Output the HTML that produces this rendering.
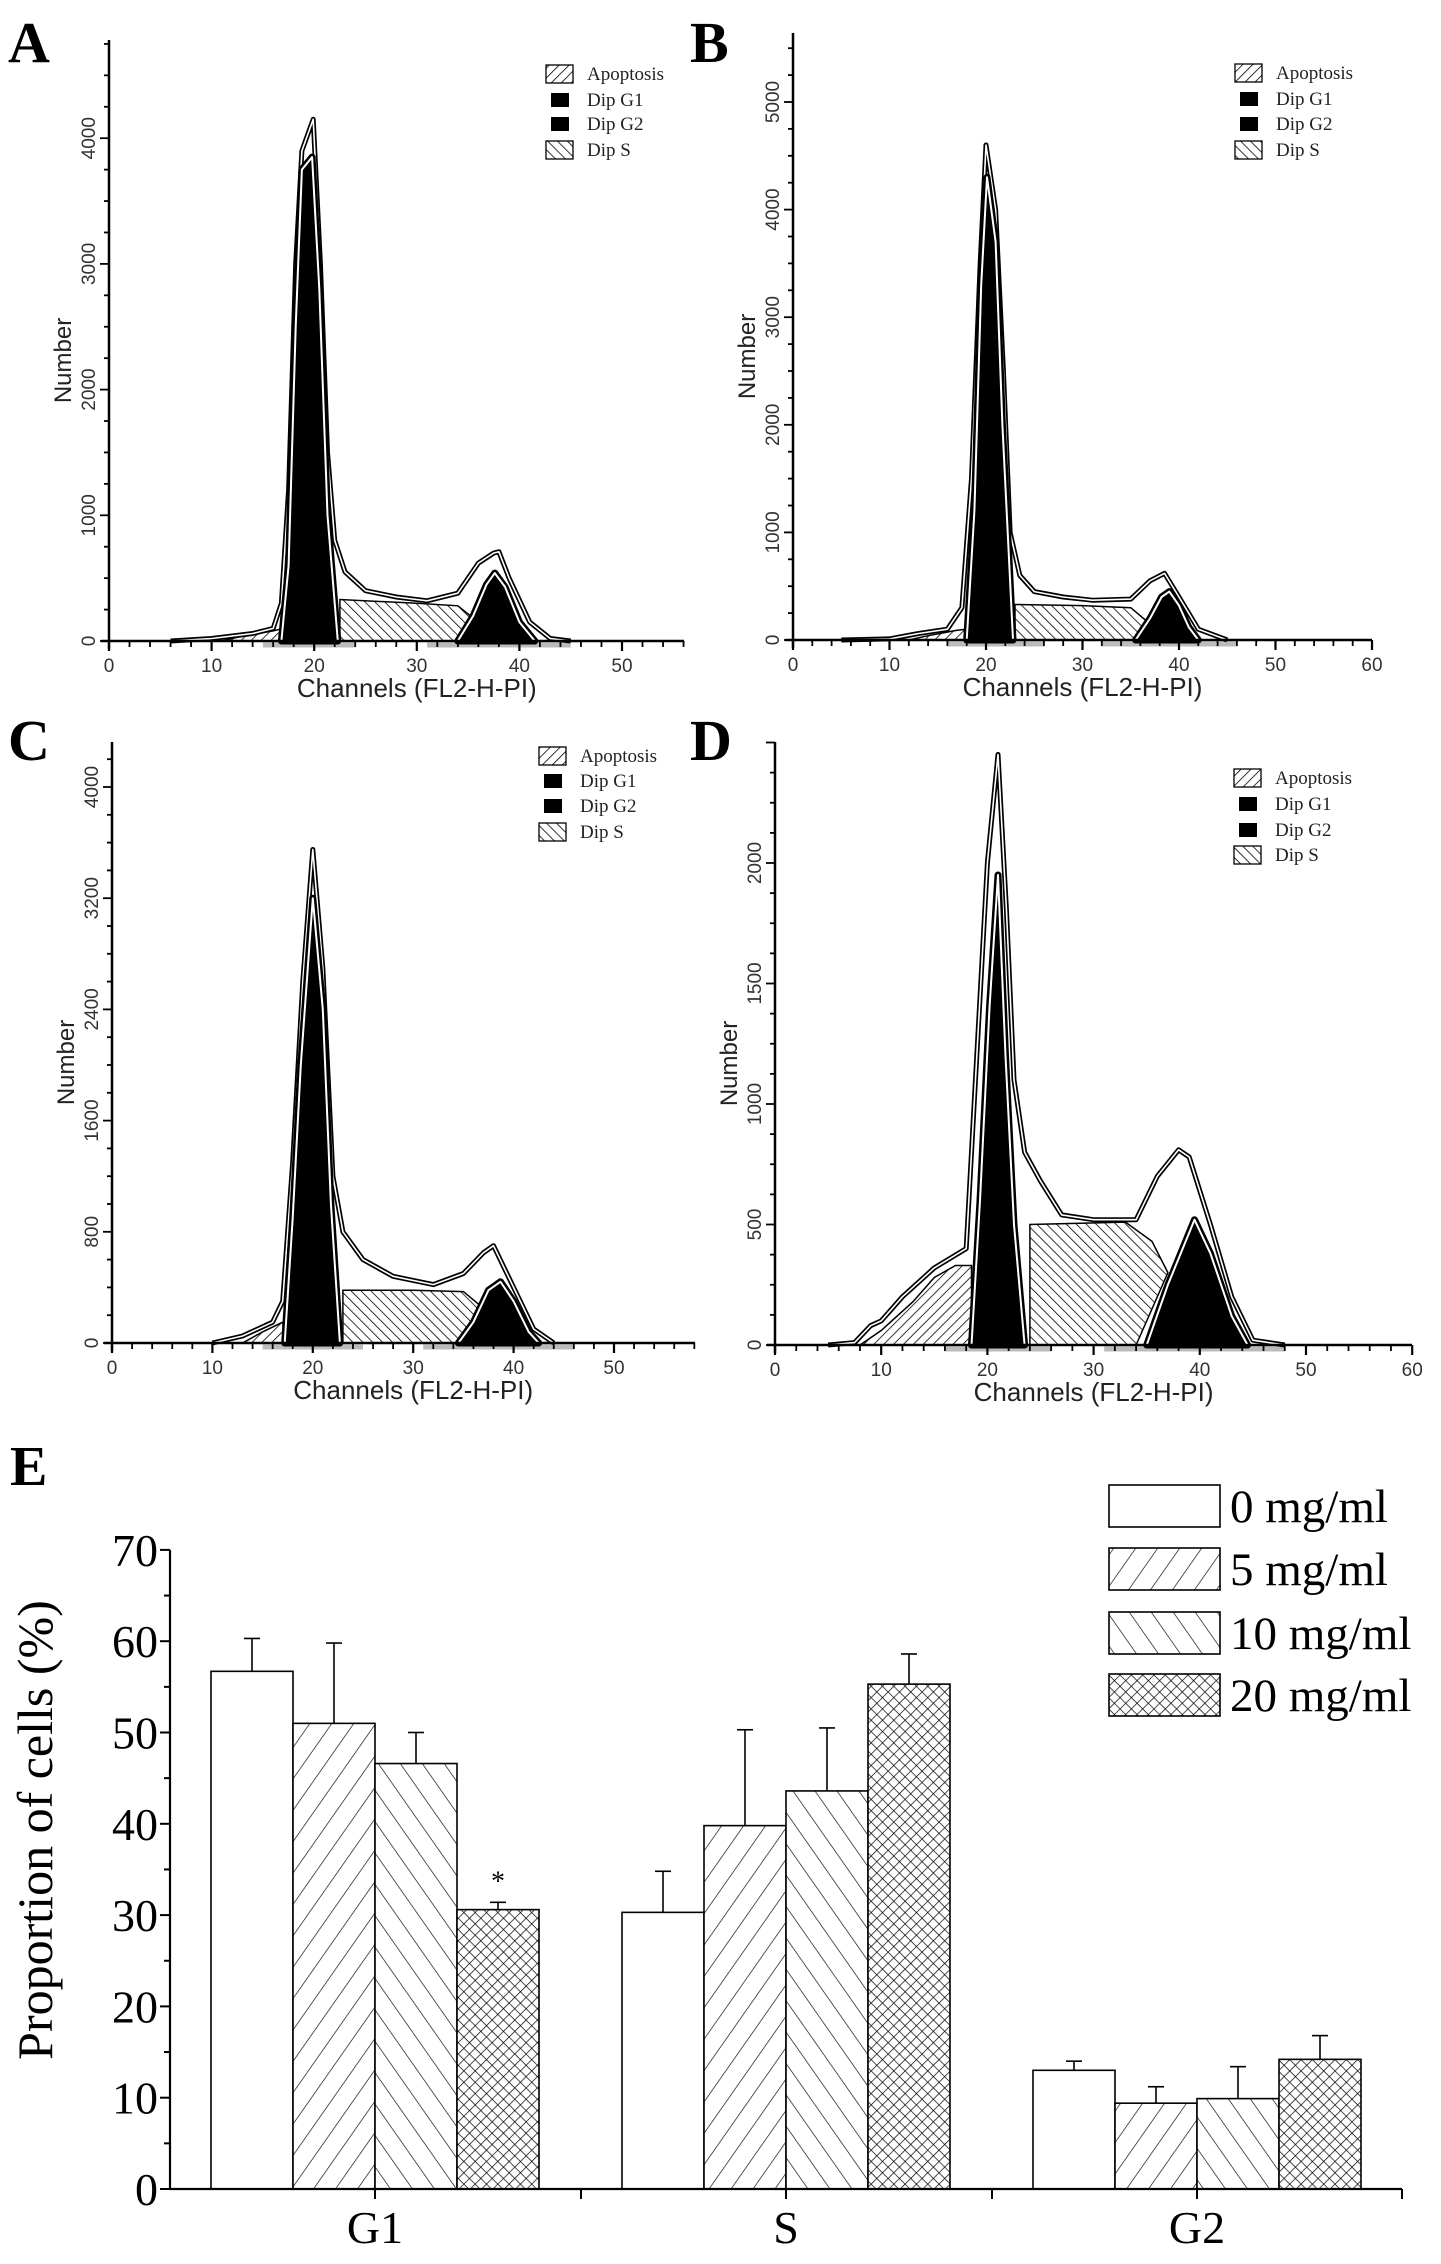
<!DOCTYPE html>
<html><head><meta charset="utf-8"><style>
html,body{margin:0;padding:0;background:#fff;}
svg{display:block;}
</style></head><body>
<svg id="fig" xmlns="http://www.w3.org/2000/svg" width="1441" height="2264" viewBox="0 0 1441 2264">
<defs>
<pattern id="hFwd" patternUnits="userSpaceOnUse" width="7" height="7" patternTransform="rotate(45)"><rect width="7" height="7" fill="#fff"/><line x1="0" y1="0" x2="0" y2="7" stroke="#000" stroke-width="1.6"/></pattern>
<pattern id="hBack" patternUnits="userSpaceOnUse" width="7" height="7" patternTransform="rotate(-45)"><rect width="7" height="7" fill="#fff"/><line x1="0" y1="0" x2="0" y2="7" stroke="#000" stroke-width="1.6"/></pattern>
<pattern id="bFwd" patternUnits="userSpaceOnUse" width="18" height="18" patternTransform="rotate(35)"><rect width="18" height="18" fill="#fff"/><line x1="0" y1="0" x2="0" y2="18" stroke="#000" stroke-width="1.3"/></pattern>
<pattern id="bBack" patternUnits="userSpaceOnUse" width="18" height="18" patternTransform="rotate(-35)"><rect width="18" height="18" fill="#fff"/><line x1="0" y1="0" x2="0" y2="18" stroke="#000" stroke-width="1.3"/></pattern>
<pattern id="bCross" patternUnits="userSpaceOnUse" width="8" height="8" patternTransform="rotate(45)"><rect width="8" height="8" fill="#fff"/><line x1="0" y1="0" x2="0" y2="8" stroke="#000" stroke-width="1.4"/><line x1="0" y1="0" x2="8" y2="0" stroke="#000" stroke-width="1.4"/></pattern>
</defs>
</svg>
<script>
// ---------- Histogram data (channel, count) ----------
const aTotal=[[6,0],[10,20],[14,60],[16,100],[16.8,300],[17.5,1200],[18.2,3000],[18.8,3900],[19.9,4150],[20.6,3000],[21.3,1500],[22,800],[23,550],[25,400],[28,350],[31,320],[34,380],[36,620],[37.5,700],[38,710],[39,500],[41,150],[43,20],[45,0]];
const aG1=[[16.8,0],[17.5,600],[18.2,2500],[18.8,3750],[19.8,3850],[20.5,2800],[21.3,1000],[22.3,0]];
const aG2=[[34,0],[35.5,200],[36.8,450],[37.6,540],[38.6,430],[40,150],[41.5,0]];
const aS=[[22.5,0],[22.5,330],[30,300],[34,280],[36,150],[36.5,0]];
const aApo=[[11,0],[13,40],[16,80],[17,100],[17,0]];
const aTicks=[0,1000,2000,3000,4000];

const bTotal=[[5,0],[10,10],[13,60],[16,100],[17.5,300],[18.5,1500],[19.4,3500],[20,4600],[21,4000],[21.8,2500],[22.5,1000],[23.5,600],[25,450],[28,400],[31,370],[35,380],[37,550],[38.5,620],[40,400],[42,100],[45,0]];
const bG1=[[18,0],[18.8,1200],[19.5,3300],[20.1,4300],[21,3700],[21.7,2000],[22.8,0]];
const bG2=[[35.5,0],[37,200],[38.2,400],[39,450],[40,320],[41,120],[42,0]];
const bS=[[23,0],[23,330],[30,320],[35,300],[37,150],[37.5,0]];
const bApo=[[12,0],[14,40],[17,90],[18,100],[18,0]];
const bTicks=[0,1000,2000,3000,4000,5000];

const cTotal=[[10,0],[13,50],[16,150],[17,300],[18,1300],[19,2600],[20,3550],[21,2700],[22,1200],[23,800],[25,600],[28,480],[32,420],[35,500],[37,650],[38,700],[40,400],[42,100],[44,0]];
const cG1=[[17.2,0],[18,900],[18.8,2000],[20,3200],[21,2400],[21.8,1000],[22.7,0]];
const cG2=[[34.5,0],[36,150],[37.5,380],[38.7,440],[40,300],[41.5,80],[42.5,0]];
const cS=[[23,0],[23,380],[30,380],[35,370],[37,250],[37.5,0]];
const cApo=[[13,0],[15,80],[17,150],[17.2,0]];
const cTicks=[0,800,1600,2400,3200,4000];

const dTotal=[[5,0],[7.5,10],[9,80],[10,100],[12,200],[15,320],[18,400],[19,1200],[20,2000],[21,2450],[21.8,1800],[22.5,1100],[23.5,800],[25,680],[27,540],[30,520],[34,520],[36,700],[38,810],[39,780],[41,500],[43,200],[45,20],[48,0]];
const dG1=[[18.5,0],[19.3,600],[20.2,1400],[21,1950],[21.7,1200],[22.5,500],[23.5,0]];
const dG2=[[35,0],[37,250],[39.5,520],[41,380],[43,120],[44.5,0]];
const dS=[[24,0],[24,500],[33,510],[35.5,430],[37,300],[35,100],[34,0]];
const dApo=[[8,0],[10,60],[13,180],[15,280],[17,330],[18.5,330],[18.5,0]];
const dTicks=[0,500,1000,1500,2000];

// ---------- Bar chart data ----------
const categories=["G1","S","G2"];
const seriesNames=["0 mg/ml","5 mg/ml","10 mg/ml","20 mg/ml"];
const dose0=[56.7,30.3,13.0];
const dose5=[51.0,39.8,9.4];
const dose10=[46.6,43.6,9.9];
const dose20=[30.6,55.3,14.2];
const err0=[3.6,4.5,1.0];
const err5=[8.8,10.5,1.8];
const err10=[3.4,6.9,3.5];
const err20=[0.8,3.3,2.6];
const yTickLabels=[0,10,20,30,40,50,60,70];

const NS="http://www.w3.org/2000/svg";
const svg=document.getElementById('fig');
function mk(tag,attrs,parent){const e=document.createElementNS(NS,tag);for(const k in attrs)e.setAttribute(k,attrs[k]);(parent||svg).appendChild(e);return e;}

function panel(cfg,total,g1,g2,s,apo,ticks){
  const g=mk('g',{});
  
  
  const sx=c=>cfg.x0+c*cfg.px10/10;
  const sy=v=>cfg.y0-v*cfg.pxUnit/cfg.unit;
  const pts=a=>a.map(p=>sx(p[0]).toFixed(1)+','+sy(p[1]).toFixed(1)).join(' ');
  const L=mk('text',{x:cfg.lx,y:cfg.ly,'font-family':'Liberation Serif, serif','font-weight':'bold','font-size':58},g);
  L.textContent=cfg.label;
  
  
  mk('line',{x1:sx(cfg.m1[0]),x2:sx(cfg.m1[1]),y1:cfg.y0+4,y2:cfg.y0+4,stroke:'#bbb','stroke-width':5},g);
  mk('line',{x1:sx(cfg.m2[0]),x2:sx(cfg.m2[1]),y1:cfg.y0+4,y2:cfg.y0+4,stroke:'#bbb','stroke-width':5},g);
  const ap=mk('polygon',{points:pts(apo),fill:'url(#hFwd)',stroke:'#000','stroke-width':1.5},g);
  
  
  const sp=mk('polygon',{points:pts(s),fill:'url(#hBack)',stroke:'#000','stroke-width':1.5},g);
  
  
  mk('polyline',{points:pts(total),fill:'none',stroke:'#000','stroke-width':5,'stroke-linejoin':'round'},g);
  const env=mk('polyline',{points:pts(total),fill:'none',stroke:'#fff','stroke-width':1.6,'stroke-linejoin':'round'},g);
  
  
  [[g1,'dip-g1-peak'],[g2,'dip-g2-peak']].forEach(([d,n])=>{
    mk('polygon',{points:pts(d),fill:'#000',stroke:'#000','stroke-width':7,'stroke-linejoin':'round'},g);
    const p=mk('polygon',{points:pts(d),fill:'#000',stroke:'#fff','stroke-width':2,'stroke-linejoin':'round'},g);
    
    
  });
  const ya=mk('line',{x1:cfg.x0,x2:cfg.x0,y1:cfg.top,y2:cfg.y0+8,stroke:'#000','stroke-width':2.5},g);
  
  
  const xa=mk('line',{x1:cfg.x0-8,x2:cfg.xend,y1:cfg.y0,y2:cfg.y0,stroke:'#000','stroke-width':2.5},g);
  
  
  for(let c=0;sx(c)<=cfg.xend+1;c+=2){
    const major=c%10===0;
    mk('line',{x1:sx(c),x2:sx(c),y1:cfg.y0,y2:cfg.y0+(major?10:6),stroke:'#000','stroke-width':major?2.2:1.8},g);
    if(major){const t=mk('text',{x:sx(c),y:cfg.y0+31,'text-anchor':'middle','font-family':'Liberation Sans, sans-serif','font-size':19,fill:'#333'},g);t.textContent=c;
      
      }
  }
  const step=ticks[1]-ticks[0];
  for(let v=0;sy(v)>=cfg.top;v+=step/4){
    const major=Math.abs(v/step-Math.round(v/step))<1e-6;
    mk('line',{x1:cfg.x0-(major?9:5),x2:cfg.x0,y1:sy(v),y2:sy(v),stroke:'#000','stroke-width':1.8},g);
  }
  ticks.forEach(v=>{
    const t=mk('text',{x:0,y:0,transform:`translate(${cfg.x0-14},${sy(v)}) rotate(-90)`,'text-anchor':'middle','font-family':'Liberation Sans, sans-serif','font-size':19,fill:'#333'},g);
    t.textContent=v;
    
    
  });
  const yt=mk('text',{x:0,y:0,transform:`translate(${cfg.x0-38},${(cfg.top+cfg.y0)/2+20}) rotate(-90)`,'text-anchor':'middle','font-family':'Liberation Sans, sans-serif','font-size':24,fill:'#222'},g);
  yt.textContent='Number';
  
  
  const xt=mk('text',{x:cfg.x0+cfg.px10*3.0,y:cfg.y0+56,'text-anchor':'middle','font-family':'Liberation Sans, sans-serif','font-size':26,fill:'#222'},g);
  xt.textContent='Channels (FL2-H-PI)';
  
  
  const lg=mk('g',{},g);
  
  
  const items=[['Apoptosis','url(#hFwd)',true],['Dip G1','#000',false],['Dip G2','#000',false],['Dip S','url(#hBack)',true]];
  items.forEach((it,i)=>{
    const y=cfg.legY[i];
    if(it[2]) mk('rect',{x:cfg.legX,y:y-9,width:27,height:18,fill:it[1],stroke:'#000','stroke-width':1.3},lg);
    else mk('rect',{x:cfg.legX+5,y:y-7,width:18,height:14,fill:'#000'},lg);
    const t=mk('text',{x:cfg.legX+41,y:y+6,'font-family':'Liberation Serif, serif','font-size':19,fill:'#222'},lg);
    t.textContent=it[0];
    
    
  });
}

panel({label:'A',lx:8,ly:62,x0:109,y0:641,px10:102.6,unit:1000,pxUnit:125.7,top:40,xend:684,legX:546,legY:[74,100,124,150],m1:[15,24],m2:[31,45]},aTotal,aG1,aG2,aS,aApo,aTicks);
panel({label:'B',lx:690,ly:62,x0:793,y0:640,px10:96.5,unit:1000,pxUnit:107.6,top:33,xend:1372,legX:1235,legY:[73,99,124,150],m1:[16,26],m2:[32,46]},bTotal,bG1,bG2,bS,bApo,bTicks);
panel({label:'C',lx:8,ly:760,x0:112,y0:1343,px10:100.4,unit:800,pxUnit:111.2,top:742,xend:695,legX:539,legY:[756,781,806,832],m1:[15,25],m2:[31,46]},cTotal,cG1,cG2,cS,cApo,cTicks);
panel({label:'D',lx:690,ly:760,x0:775,y0:1345,px10:106.2,unit:500,pxUnit:120.5,top:742,xend:1412,legX:1234,legY:[778,804,830,855],m1:[16,26],m2:[31,48]},dTotal,dG1,dG2,dS,dApo,dTicks);

// ---------- Bar chart ----------
(function(){
  const g=mk('g',{});
  
  
  const X0=170,XE=1402,Y0=2189,PX10=91.3;
  const sy=v=>Y0-v*PX10/10;
  const centers=[375,786,1197],BW=82;
  const E=mk('text',{x:10,y:1485,'font-family':'Liberation Serif, serif','font-weight':'bold','font-size':56},g);
  E.textContent='E';
  
  
  const series=[dose0,dose5,dose10,dose20],errs=[err0,err5,err10,err20];
  const fills=['#fff','url(#bFwd)','url(#bBack)','url(#bCross)'];
  categories.forEach((cat,ci)=>{
    series.forEach((ser,si)=>{
      const x=centers[ci]-2*BW+si*BW, v=ser[ci], e=errs[si][ci];
      const r=mk('rect',{x:x,y:sy(v),width:BW,height:Y0-sy(v),fill:fills[si],stroke:'#000','stroke-width':1.6},g);
      
      
      const cx=x+BW/2;
      const el=mk('line',{x1:cx,x2:cx,y1:sy(v),y2:sy(v+e),stroke:'#000','stroke-width':1.6},g);
      
      
      mk('line',{x1:cx-8,x2:cx+8,y1:sy(v+e),y2:sy(v+e),stroke:'#000','stroke-width':1.6},g);
    });
    const t=mk('text',{x:centers[ci],y:2243,'text-anchor':'middle','font-family':'Liberation Serif, serif','font-size':46},g);
    t.textContent=cat;
    
    
  });
  const st=mk('text',{x:centers[0]+1.5*BW,y:sy(dose20[0]+err20[0])-12,'text-anchor':'middle','font-family':'Liberation Serif, serif','font-size':28},g);
  st.textContent='*';
  
  
  const ya=mk('line',{x1:X0,x2:X0,y1:sy(70),y2:Y0,stroke:'#000','stroke-width':2.2},g);
  
  
  const xa=mk('line',{x1:X0,x2:XE,y1:Y0,y2:Y0,stroke:'#000','stroke-width':2.2},g);
  
  
  [375,581,786,992,1197,1402].forEach(x=>mk('line',{x1:x,x2:x,y1:Y0,y2:Y0+10,stroke:'#000','stroke-width':2},g));
  for(let v=0;v<=70;v+=5) mk('line',{x1:X0-(v%10===0?10:6),x2:X0,y1:sy(v),y2:sy(v),stroke:'#000','stroke-width':2},g);
  yTickLabels.forEach(v=>{
    const t=mk('text',{x:X0-12,y:sy(v)+16,'text-anchor':'end','font-family':'Liberation Serif, serif','font-size':46},g);
    t.textContent=v;
    
    
  });
  const yt=mk('text',{x:0,y:0,transform:'translate(52,1830) rotate(-90)','text-anchor':'middle','font-family':'Liberation Serif, serif','font-size':50},g);
  yt.textContent='Proportion of cells (%)';
  
  
  const lg=mk('g',{},g);
  
  
  const ly=[1485,1548,1612,1674];
  seriesNames.forEach((n,i)=>{
    mk('rect',{x:1109,y:ly[i],width:111,height:42,fill:fills[i],stroke:'#000','stroke-width':1.6},lg);
    const t=mk('text',{x:1230,y:ly[i]+37,'font-family':'Liberation Serif, serif','font-size':47},lg);
    t.textContent=n;
    
    
  });
})();
</script>
</body></html>
